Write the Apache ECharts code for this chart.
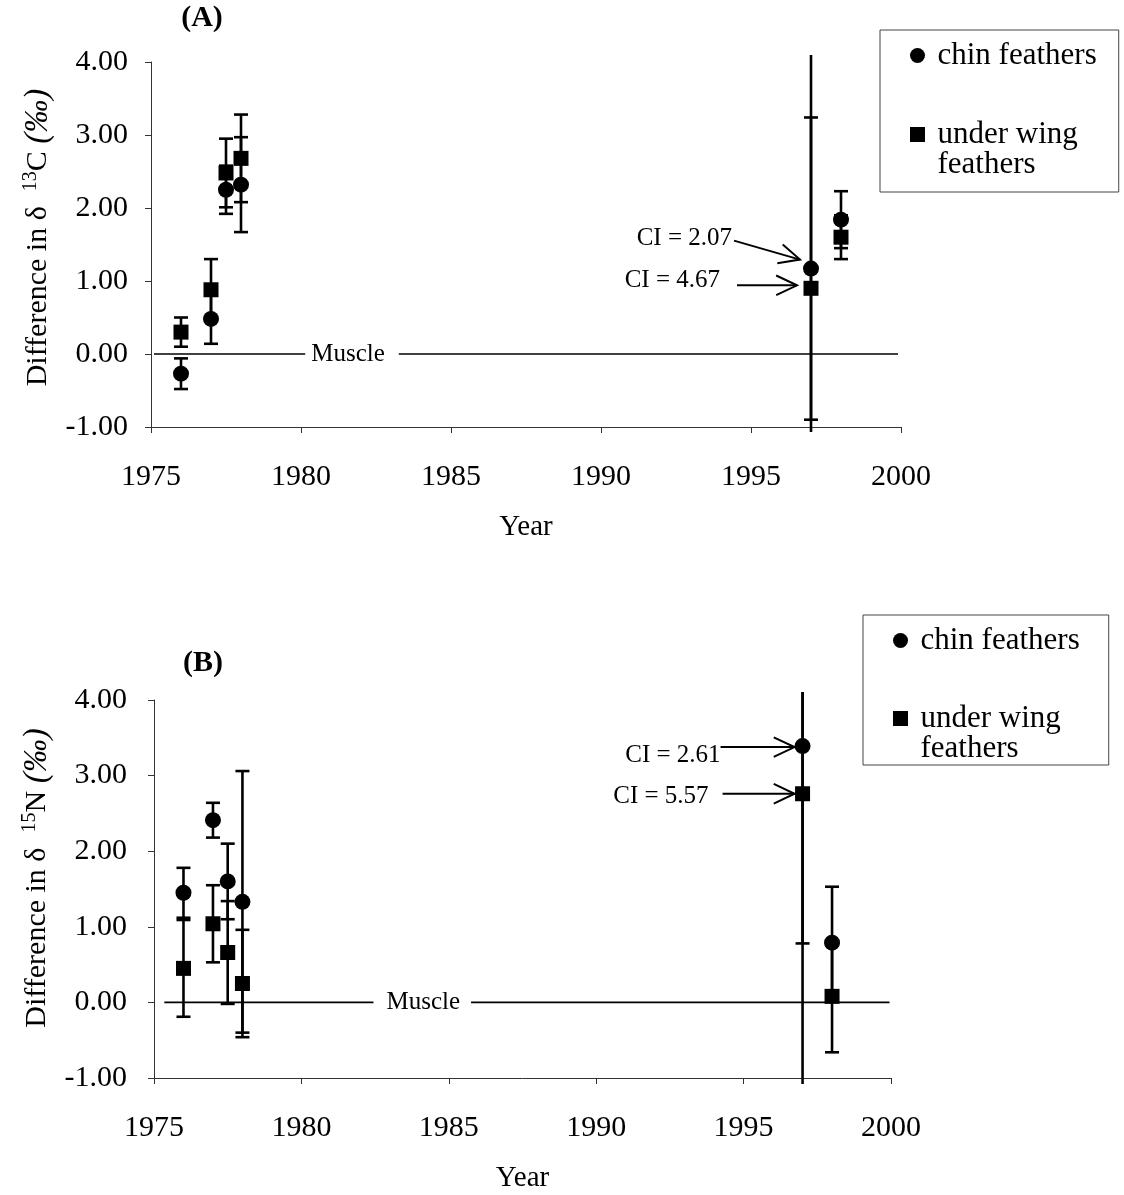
<!DOCTYPE html>
<html>
<head>
<meta charset="utf-8">
<script src="https://cdn.jsdelivr.net/npm/echarts@6/dist/echarts.min.js"></script>
<style>
  html, body { margin: 0; padding: 0; background: #fff; }
  #chart { width: 1124px; height: 1195px; }
</style>
</head>
<body>
<div id="chart"></div>
<script>
// ---------- data ----------
const years = [1976, 1977, 1977.5, 1978, 1997, 1998];

// (A) difference in delta 13C relative to muscle, with CI half-widths
const chinC     = [-0.27, 0.48, 2.25, 2.32, 1.17, 1.84];
const chinCErr  = [ 0.21, 0.34, 0.33, 0.65, 2.07, 0.39];
const wingC     = [ 0.30, 0.88, 2.48, 2.68, 0.90, 1.60];
const wingCErr  = [ 0.20, 0.42, 0.47, 0.60, 4.67, 0.30];

// (B) difference in delta 15N relative to muscle, with CI half-widths
const chinN     = [1.45, 2.41, 1.60, 1.33, 3.39, 0.79];
const chinNErr  = [0.33, 0.23, 0.50, 1.73, 2.61, 0.74];
const wingN     = [0.45, 1.04, 0.66, 0.25, 2.76, 0.08];
const wingNErr  = [0.64, 0.51, 0.68, 0.71, 5.57, 0.74];

const muscleLevel = 0;
const yearRange = [1975, 2000];
const yearStep = 5;
const valueRange = [-1, 4];
const valueStep = 1;
const seriesNames = ['chin feathers', 'under wing feathers'];
const annotatedYear = 1997;

// ---------- layout / style ----------
const FONT = '"Liberation Serif", "Times New Roman", Times, serif';
const INK = '#000';
const AXIS = '#333';

const panels = [
  {
    title: '(A)', titleAt: [202, 18],
    grid: { left: 151, top: 62, width: 750, height: 365 },
    chin: chinC, chinErr: chinCErr, wing: wingC, wingErr: wingCErr,
    iso: '13', elem: 'C',
    yLabelMargin: 23, yNameGap: 94, yNameShift: 14,
    overshoot: [7, 5],
    muscleSpan: [1975.1, 1999.9], muscleLabelAt: 1981.7, muscleLabelPad: [1, 14, 1, 6],
    legend: { left: 880, top: 30, padding: [10, 22, 12, 30], itemGap: 18 },
    notes: {
      chin: { tip: [-11, -9], tail: [-77, -28], text: [-79, -30] },
      wing: { tip: [-14, -3], tail: [-74, -3], text: [-91, -8] }
    }
  },
  {
    title: '(B)', titleAt: [203, 663],
    grid: { left: 154, top: 700, width: 737, height: 378 },
    chin: chinN, chinErr: chinNErr, wing: wingN, wingErr: wingNErr,
    iso: '15', elem: 'N',
    yLabelMargin: 27, yNameGap: 97, yNameShift: 22,
    overshoot: [8, 6],
    muscleSpan: [1975.35, 1999.95], muscleLabelAt: 1984.1, muscleLabelPad: [1, 11, 1, 13],
    legend: { left: 863, top: 615, padding: [10, 29, 1, 30], itemGap: 17 },
    notes: {
      chin: { tip: [-8, 1], tail: [-82, 1], text: [-82, 9] },
      wing: { tip: [-8, 0], tail: [-80, 0], text: [-94, 3] }
    }
  }
];

// ---------- series builders ----------
function errorBars(k, vals, errs, overshoot) {
  return {
    type: 'custom', xAxisIndex: k, yAxisIndex: k, clip: false, silent: true, z: 2,
    data: years.map((y, i) => [y, vals[i], errs[i]]),
    renderItem(params, api) {
      const cs = params.coordSys;
      const x = api.value(0), v = api.value(1), e = api.value(2);
      const hi = v + e, lo = v - e;
      const pHi = api.coord([x, hi]);
      const pLo = api.coord([x, lo]);
      const yTop = Math.max(pHi[1], cs.y - overshoot[0]);
      const yBot = Math.min(pLo[1], cs.y + cs.height + overshoot[1]);
      const style = { stroke: INK, lineWidth: 2.6 };
      const capHalf = 7;
      const kids = [{ type: 'line', shape: { x1: pHi[0], y1: yTop, x2: pHi[0], y2: yBot }, style }];
      if (hi <= valueRange[1]) {
        kids.push({ type: 'line', shape: { x1: pHi[0] - capHalf, y1: pHi[1], x2: pHi[0] + capHalf, y2: pHi[1] }, style });
      }
      if (lo >= valueRange[0]) {
        kids.push({ type: 'line', shape: { x1: pLo[0] - capHalf, y1: pLo[1], x2: pLo[0] + capHalf, y2: pLo[1] }, style });
      }
      return { type: 'group', children: kids };
    }
  };
}

function markers(k, name, vals, symbol, size) {
  return {
    type: 'scatter', name, xAxisIndex: k, yAxisIndex: k, z: 5,
    symbol, symbolSize: size,
    itemStyle: { color: INK, opacity: 1 },
    emphasis: { disabled: true },
    data: years.map((y, i) => [y, vals[i]])
  };
}

function ciNote(k, vals, errs, off) {
  const i = years.indexOf(annotatedYear);
  return {
    type: 'custom', xAxisIndex: k, yAxisIndex: k, clip: false, silent: true, z: 6,
    data: [[years[i], vals[i], errs[i]]],
    renderItem(params, api) {
      const c = api.coord([api.value(0), api.value(1)]);
      const tip = [c[0] + off.tip[0], c[1] + off.tip[1]];
      const tail = [c[0] + off.tail[0], c[1] + off.tail[1]];
      const ang = Math.atan2(tip[1] - tail[1], tip[0] - tail[0]);
      const L = 23, spread = 0.44;
      const h1 = [tip[0] - L * Math.cos(ang - spread), tip[1] - L * Math.sin(ang - spread)];
      const h2 = [tip[0] - L * Math.cos(ang + spread), tip[1] - L * Math.sin(ang + spread)];
      const st = { stroke: INK, lineWidth: 2, fill: 'none' };
      return {
        type: 'group',
        children: [
          { type: 'line', shape: { x1: tail[0], y1: tail[1], x2: tip[0], y2: tip[1] }, style: st },
          { type: 'polyline', shape: { points: [h1, tip, h2] }, style: st },
          {
            type: 'text', x: c[0] + off.text[0], y: c[1] + off.text[1],
            style: {
              text: 'CI = ' + api.value(2).toFixed(2),
              align: 'right', verticalAlign: 'middle',
              fontSize: 25, fontFamily: FONT, fill: INK
            }
          }
        ]
      };
    }
  };
}

function muscleLine(k, span) {
  return {
    type: 'line', xAxisIndex: k, yAxisIndex: k, silent: true, z: 1,
    symbol: 'none', lineStyle: { color: INK, width: 1.6 },
    data: [[span[0], muscleLevel], [span[1], muscleLevel]]
  };
}

function muscleLabel(k, at, pad) {
  return {
    type: 'custom', xAxisIndex: k, yAxisIndex: k, clip: false, silent: true, z: 3,
    data: [[at, muscleLevel]],
    renderItem(params, api) {
      const c = api.coord([api.value(0), api.value(1)]);
      return {
        type: 'text', x: c[0], y: c[1],
        style: {
          text: 'Muscle', align: 'center', verticalAlign: 'middle',
          fontSize: 25, fontFamily: FONT, fill: INK,
          backgroundColor: '#fff', padding: pad
        }
      };
    }
  };
}

// ---------- option ----------
const grids = [], xAxes = [], yAxes = [], series = [], legends = [], graphics = [];

panels.forEach((p, k) => {
  grids.push(Object.assign({ outerBoundsMode: 'none', containLabel: false }, p.grid));

  xAxes.push({
    type: 'value', gridIndex: k,
    min: yearRange[0], max: yearRange[1], interval: yearStep,
    name: 'Year', nameLocation: 'middle', nameGap: 86,
    nameTextStyle: { fontFamily: FONT, fontSize: 29, color: INK },
    axisLine: { show: true, onZero: false, lineStyle: { color: AXIS, width: 1 } },
    axisTick: { show: true, length: 6, lineStyle: { color: AXIS } },
    axisLabel: {
      fontFamily: FONT, fontSize: 30, color: INK, margin: 35,
      formatter: v => String(v)
    },
    splitLine: { show: false }
  });

  yAxes.push({
    type: 'value', gridIndex: k,
    min: valueRange[0], max: valueRange[1], interval: valueStep,
    name: '{n|Difference in δ  }{s|' + p.iso + '}{n|' + p.elem + ' }{i|(‰)}',
    nameLocation: 'middle', nameGap: p.yNameGap,
    nameTextStyle: {
      fontFamily: FONT, fontSize: 30, color: INK,
      padding: [0, 0, 0, p.yNameShift],
      rich: {
        n: { fontFamily: FONT, fontSize: 30, color: INK, lineHeight: 34 },
        s: { fontFamily: FONT, fontSize: 20, color: INK, verticalAlign: 'top', lineHeight: 34 },
        i: { fontFamily: FONT, fontSize: 33, color: INK, fontStyle: 'italic', lineHeight: 34 }
      }
    },
    axisLine: { show: true, onZero: false, lineStyle: { color: AXIS, width: 1 } },
    axisTick: { show: true, length: 6, lineStyle: { color: AXIS } },
    axisLabel: {
      fontFamily: FONT, fontSize: 30, color: INK, margin: p.yLabelMargin,
      formatter: v => v.toFixed(2)
    },
    splitLine: { show: false }
  });

  series.push(muscleLine(k, p.muscleSpan));
  series.push(muscleLabel(k, p.muscleLabelAt, p.muscleLabelPad));
  series.push(errorBars(k, p.wing, p.wingErr, p.overshoot));
  series.push(errorBars(k, p.chin, p.chinErr, p.overshoot));
  series.push(markers(k, seriesNames[1], p.wing, 'rect', 15));
  series.push(markers(k, seriesNames[0], p.chin, 'circle', 16));
  series.push(ciNote(k, p.chin, p.chinErr, p.notes.chin));
  series.push(ciNote(k, p.wing, p.wingErr, p.notes.wing));

  legends.push({
    orient: 'vertical',
    left: p.legend.left, top: p.legend.top,
    padding: p.legend.padding, itemGap: p.legend.itemGap,
    itemWidth: 30, itemHeight: 15,
    borderColor: '#444', borderWidth: 1, backgroundColor: '#fff',
    selectedMode: false,
    data: [
      { name: seriesNames[0], icon: 'circle' },
      { name: seriesNames[1], icon: 'path://M0,0H10V10H0Z' }
    ],
    formatter: n => (n === seriesNames[1] ? ' \nunder wing\nfeathers' : n),
    textStyle: { fontFamily: FONT, fontSize: 31, lineHeight: 30, color: INK }
  });

  graphics.push({
    type: 'text', x: p.titleAt[0], y: p.titleAt[1],
    style: {
      text: p.title, fontFamily: FONT, fontSize: 30, fontWeight: 'bold',
      fill: INK, align: 'center', verticalAlign: 'middle'
    }
  });
});

const chart = echarts.init(document.getElementById('chart'), null, { renderer: 'canvas' });
chart.setOption({
  backgroundColor: '#fff',
  animation: false,
  grid: grids,
  xAxis: xAxes,
  yAxis: yAxes,
  legend: legends,
  graphic: graphics,
  series
});
</script>
</body>
</html>
